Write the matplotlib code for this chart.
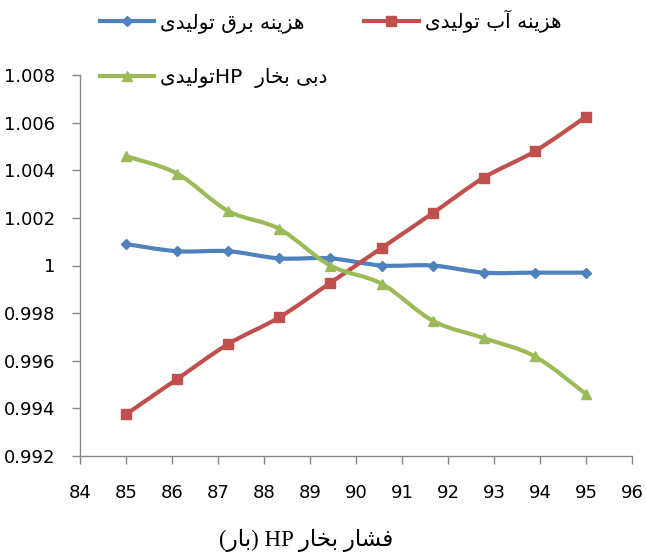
import numpy as np
import matplotlib
matplotlib.use('Agg')
import matplotlib.pyplot as plt
from matplotlib.path import Path
from matplotlib.patches import PathPatch
from matplotlib.lines import Line2D
from matplotlib.ticker import FuncFormatter

# data
pressure = [85, 86.11, 87.22, 88.33, 89.44, 90.56, 91.67, 92.78, 93.89, 95]
cost_power = [1.0009, 1.0006, 1.0006, 1.0003, 1.0003, 1.0000, 1.0000, 0.9997, 0.9997, 0.9997]
cost_water = [0.99375, 0.99523, 0.9967, 0.99782, 0.99927, 1.00074, 1.0022, 1.00369, 1.0048, 1.00625]
hp_flow = [1.00459, 1.00386, 1.00229, 1.00154, 1.0000, 0.99923, 0.99768, 0.99695, 0.99618, 0.9946]

label_power = 'هزینه برق تولیدی'
label_water = 'هزینه آب تولیدی'
label_flow = 'دبی بخار  HPتولیدی'
x_title = 'فشار بخار HP (بار)'

x_ticks = list(range(84, 97))
y_ticks = [0.992, 0.994, 0.996, 0.998, 1.0, 1.002, 1.004, 1.006, 1.008]

# minimal persian shaping (matplotlib has no text shaping / bidi)
FORMS = {  # isolated, final, initial, medial
    'ب': ('\uFE8F', '\uFE90', '\uFE91', '\uFE92'),
    'ت': ('\uFE95', '\uFE96', '\uFE97', '\uFE98'),
    'خ': ('\uFEA5', '\uFEA6', '\uFEA7', '\uFEA8'),
    'ش': ('\uFEB5', '\uFEB6', '\uFEB7', '\uFEB8'),
    'ف': ('\uFED1', '\uFED2', '\uFED3', '\uFED4'),
    'ق': ('\uFED5', '\uFED6', '\uFED7', '\uFED8'),
    'ل': ('\uFEDD', '\uFEDE', '\uFEDF', '\uFEE0'),
    'ن': ('\uFEE5', '\uFEE6', '\uFEE7', '\uFEE8'),
    'ه': ('\uFEE9', '\uFEEA', '\uFEEB', '\uFEEC'),
    'ی': ('\uFBFC', '\uFBFD', '\uFBFE', '\uFBFF'),
    'د': ('\uFEA9', '\uFEAA'),
    'ر': ('\uFEAD', '\uFEAE'),
    'ز': ('\uFEAF', '\uFEB0'),
    'و': ('\uFEED', '\uFEEE'),
    'ا': ('\uFE8D', '\uFE8E'),
    'آ': ('\uFE81', '\uFE82'),
}


def fa(text):
    out = []
    for i, ch in enumerate(text):
        if ch not in FORMS:
            out.append(ch)
            continue
        prev = text[i - 1] if i > 0 else ''
        nxt = text[i + 1] if i + 1 < len(text) else ''
        join_prev = prev in FORMS and len(FORMS[prev]) == 4
        join_next = len(FORMS[ch]) == 4 and nxt in FORMS
        f = FORMS[ch]
        if join_prev and join_next:
            out.append(f[3])
        elif join_prev:
            out.append(f[1])
        elif join_next:
            out.append(f[2])
        else:
            out.append(f[0])
    # visual order: reverse, keep latin runs left-to-right
    runs, cur = [], ''
    for ch in out:
        if ch.isascii() and ch.isalnum():
            cur += ch
        else:
            if cur:
                runs.append(cur)
                cur = ''
            runs.append(ch)
    if cur:
        runs.append(cur)
    swap = {'(': ')', ')': '('}
    return ''.join(swap.get(r, r) for r in reversed(runs))


def smooth(ax, x, y, color, lw):
    # excel style smoothed line through the points
    x = np.asarray(x, float)
    y = np.asarray(y, float)
    pts = ax.transData.transform(np.column_stack([x, y]))
    verts = [pts[0]]
    codes = [Path.MOVETO]
    n = len(pts)
    for i in range(n - 1):
        p0 = pts[i - 1] if i > 0 else pts[i]
        p1, p2 = pts[i], pts[i + 1]
        p3 = pts[i + 2] if i + 2 < n else pts[i + 1]
        c1 = p1 + (p2 - p0) / 6.0
        c2 = p2 - (p3 - p1) / 6.0
        verts += [c1, c2, p2]
        codes += [Path.CURVE4] * 3
    path = Path(verts, codes)
    ax.add_patch(PathPatch(path, facecolor='none', edgecolor=color, lw=lw,
                           transform=None, capstyle='round', joinstyle='round', zorder=2))


blue = '#4F81BD'
red = '#C0504D'
green = '#9BBB59'
grey = '#868686'

fig = plt.figure(figsize=(6.46, 5.55), dpi=100)
ax = fig.add_axes([80 / 646, 1 - 456 / 555, 552 / 646, 381 / 555])
ax.set_xlim(84, 96)
ax.set_ylim(0.992, 1.008)

lw = 3.0
series = [
    (cost_power, blue, 'D', 5, label_power),
    (cost_water, red, 's', 6.5, label_water),
    (hp_flow, green, '^', 7, label_flow),
]
handles = {}
for vals, col, mk, ms, lab in series:
    smooth(ax, pressure, vals, col, lw)
    ax.plot(pressure, vals, linestyle='none', marker=mk, ms=ms, color=col, zorder=3)
    handles[lab] = Line2D([], [], color=col, lw=lw, marker=mk, ms=ms)

for s in ['top', 'right']:
    ax.spines[s].set_visible(False)
for s in ['left', 'bottom']:
    ax.spines[s].set_color(grey)
    ax.spines[s].set_linewidth(1.0)

ax.set_xticks(x_ticks)
ax.set_yticks(y_ticks)
ax.yaxis.set_major_formatter(FuncFormatter(lambda v, p: f'{v:.3f}'.rstrip('0').rstrip('.')))
tick_font = ['Liberation Sans Narrow', 'DejaVu Sans']
ax.tick_params(axis='both', direction='out', length=6, width=1, color=grey, labelsize=13)
ax.tick_params(axis='y', pad=12)
ax.tick_params(axis='x', pad=14)
for t in ax.get_xticklabels() + ax.get_yticklabels():
    t.set_family(tick_font)

# legend: col 1 = blue, green ; col 2 = red
order = [label_power, label_flow, label_water]
leg = fig.legend([handles[k] for k in order], [fa(k) for k in order],
                 loc='upper left', bbox_to_anchor=(100 / 646, 1 - 10 / 555), ncol=2,
                 frameon=False, borderpad=0, borderaxespad=0, handlelength=2.7,
                 handletextpad=0.3, columnspacing=1.8, labelspacing=1.75,
                 prop={'family': 'DejaVu Sans', 'size': 14.5})

fig.text(306 / 646, 1 - 541 / 555, fa(x_title), ha='center', va='center',
         fontsize=16.5, family=['Liberation Serif', 'DejaVu Sans'])

fig.savefig('out.png', dpi=100)
